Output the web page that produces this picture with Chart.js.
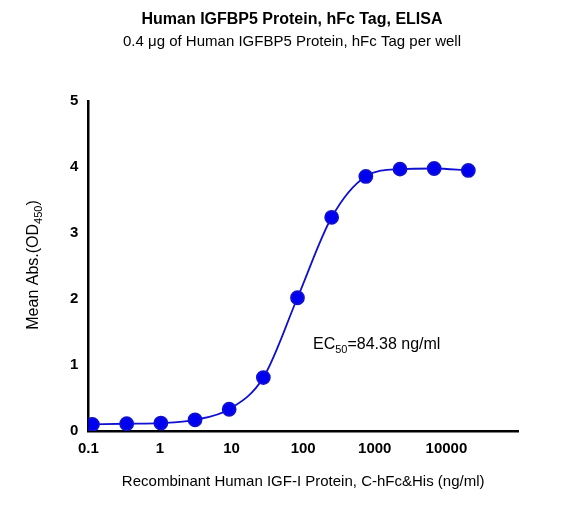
<!DOCTYPE html><html><head><script src="https://cdn.jsdelivr.net/npm/chart.js@4"></script>
<style>body{margin:0;background:#fff}#w{width:573px;height:507px}</style></head><body><div id="w"><canvas id="c"></canvas></div><script>
const conc=[0.114,0.343,1.03,3.09,9.26,27.8,83.3,250,750,2250,6750,20250];
const od=[0.10,0.11,0.12,0.17,0.33,0.81,2.02,3.24,3.86,3.97,3.98,3.95];
const xTicks=[0.1,1,10,100,1000,10000];
const yTicks=[0,1,2,3,4,5];
const F='Arial, "Liberation Sans", sans-serif';
const sub={id:'sub',afterDraw(ch){const c=ch.ctx;c.save();c.fillStyle='#000';
 function rich(parts,x,y,align){let w=0;parts.forEach(p=>{c.font=p[1]?'11px '+F:'16px '+F;w+=c.measureText(p[0]).width});
  let cx=align==='center'?x-w/2:x;c.textAlign='left';c.textBaseline='alphabetic';
  parts.forEach(p=>{c.font=p[1]?'11px '+F:'16px '+F;c.fillText(p[0],cx,y+(p[1]?4:0));cx+=c.measureText(p[0]).width});}
 rich([['EC',0],['50',1],['=84.38 ng/ml',0]],313,349,'left');
 c.translate(38,265);c.rotate(-Math.PI/2);rich([['Mean Abs.(OD',0],['450',1],[')',0]],0,0,'center');
 c.restore();}};
new Chart(document.getElementById('c'),{type:'line',plugins:[sub],
data:{datasets:[{data:conc.map((x,i)=>({x,y:od[i]})),borderColor:'#1010d0',backgroundColor:'#0000f0',borderWidth:1.8,pointRadius:6.5,pointHoverRadius:6.5,cubicInterpolationMode:'monotone'}]},
options:{animation:false,responsive:true,maintainAspectRatio:false,
layout:{padding:{left:66,right:55,top:0,bottom:12}},
plugins:{legend:{display:false},tooltip:{enabled:false},
title:{display:true,text:'Human IGFBP5 Protein, hFc Tag, ELISA',font:{family:F,size:16,weight:'bold'},color:'#000',padding:{top:10,bottom:4}},
subtitle:{display:true,text:'0.4 μg of Human IGFBP5 Protein, hFc Tag per well',font:{family:F,size:15},color:'#000',padding:{bottom:50}}},
scales:{x:{type:'logarithmic',min:0.1,max:100000,
 afterBuildTicks(a){a.ticks=xTicks.map(v=>({value:v}))},
 ticks:{callback:v=>String(v),font:{family:F,size:15,weight:'bold'},color:'#000',maxRotation:0,autoSkip:false},
 grid:{display:false,drawTicks:true,tickLength:6,tickColor:'#000',tickWidth:2},border:{color:'#000',width:2.5},
 title:{display:true,text:'Recombinant Human IGF-I Protein, C-hFc&His (ng/ml)',font:{family:F,size:15},color:'#000',padding:{top:12}}},
y:{min:0,max:5,afterBuildTicks(a){a.ticks=yTicks.map(v=>({value:v}))},
 ticks:{font:{family:F,size:15,weight:'bold'},color:'#000',padding:4},
 grid:{display:false,drawTicks:true,tickLength:6,tickColor:'#000',tickWidth:2},border:{color:'#000',width:2.5}}}}});
</script></body></html>
